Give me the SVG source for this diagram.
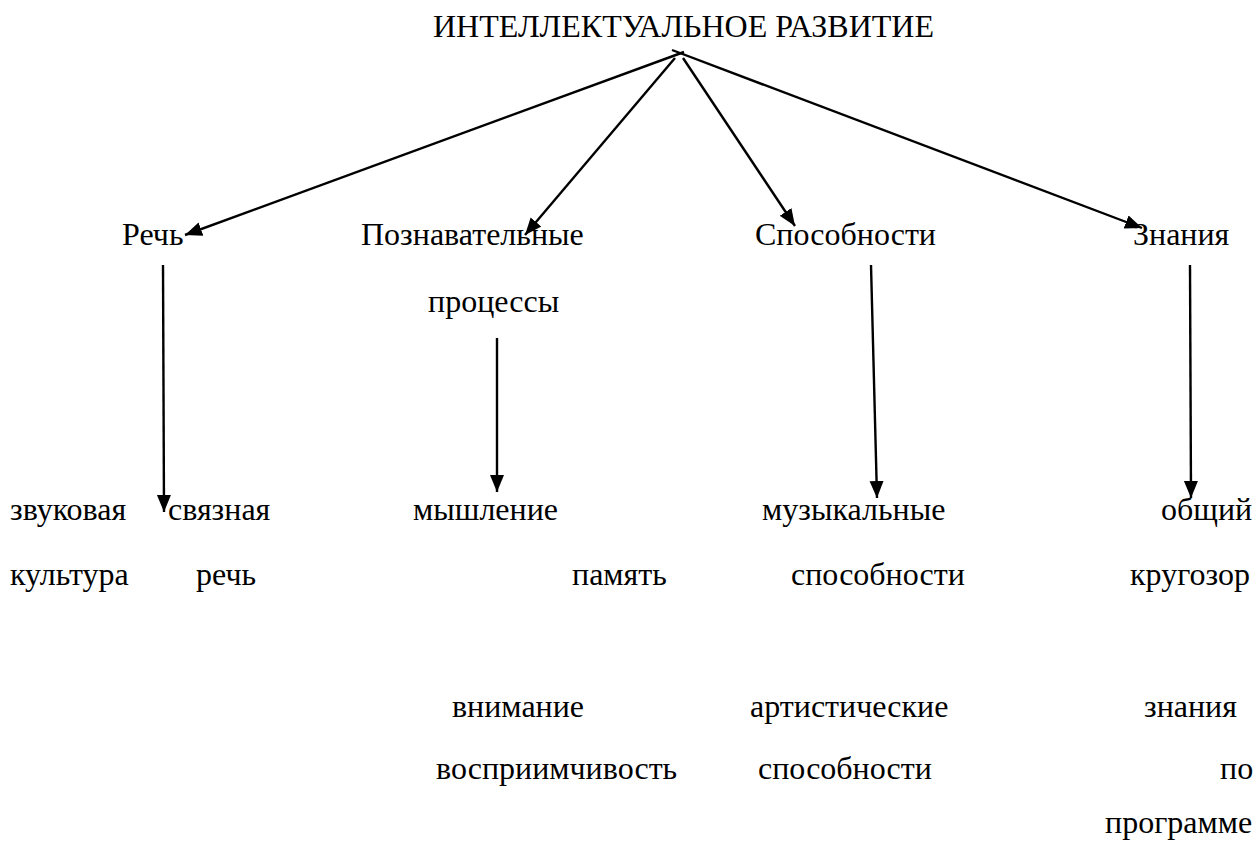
<svg xmlns="http://www.w3.org/2000/svg" width="1258" height="843" viewBox="0 0 1258 843">
<style>
text{font-family:'Liberation Serif','Times New Roman',Times,Tinos,'DejaVu Serif','Noto Serif',serif;font-size:32px;fill:#000}
.c{stroke:#000;stroke-width:2.4;fill:none}
</style>
<defs>
<marker id="ah" markerUnits="userSpaceOnUse" markerWidth="20" markerHeight="16" refX="17" refY="7" orient="auto">
<path d="M0,0 L17,7 L0,14 Z" fill="#000"/>
</marker>
</defs>
<rect width="1258" height="843" fill="#fff"/>
<g id="connectors">
<line class="c" x1="684" y1="52" x2="185" y2="235" marker-end="url(#ah)"/>
<line class="c" x1="675" y1="58" x2="525" y2="235" marker-end="url(#ah)"/>
<line class="c" x1="683" y1="58" x2="795" y2="226" marker-end="url(#ah)"/>
<line class="c" x1="672" y1="50" x2="1142" y2="228" marker-end="url(#ah)"/>
<line class="c" x1="163" y1="265" x2="164" y2="512" marker-end="url(#ah)"/>
<line class="c" x1="497" y1="338" x2="497" y2="492" marker-end="url(#ah)"/>
<line class="c" x1="871" y1="265" x2="877" y2="498" marker-end="url(#ah)"/>
<line class="c" x1="1190" y1="265" x2="1191" y2="498" marker-end="url(#ah)"/>
</g>
<g id="title"><text x="433" y="37">ИНТЕЛЛЕКТУАЛЬНОЕ РАЗВИТИЕ</text></g>
<g id="rech"><text x="122" y="245">Речь</text></g>
<g id="poznav"><text x="361" y="245">Познавательные</text><text x="428" y="312">процессы</text></g>
<g id="sposob"><text x="755" y="245">Способности</text></g>
<g id="znania"><text x="1133" y="245">Знания</text></g>
<g id="zvuk"><text x="10" y="520">звуковая</text><text x="10" y="585">культура</text></g>
<g id="svyaz"><text x="168" y="520">связная</text><text x="196" y="585">речь</text></g>
<g id="mysh"><text x="413" y="520">мышление</text></g>
<g id="pamyat"><text x="572" y="585">память</text></g>
<g id="vnim"><text x="452" y="717">внимание</text></g>
<g id="vospr"><text x="436" y="779">восприимчивость</text></g>
<g id="muz"><text x="762" y="520">музыкальные</text><text x="791" y="585">способности</text></g>
<g id="art"><text x="750" y="717">артистические</text><text x="758" y="779">способности</text></g>
<g id="obsh"><text x="1161" y="520">общий</text><text x="1130" y="585">кругозор</text></g>
<g id="zn2"><text x="1144" y="717">знания</text><text x="1220" y="779">по</text><text x="1105" y="833">программе</text></g>
</svg>
